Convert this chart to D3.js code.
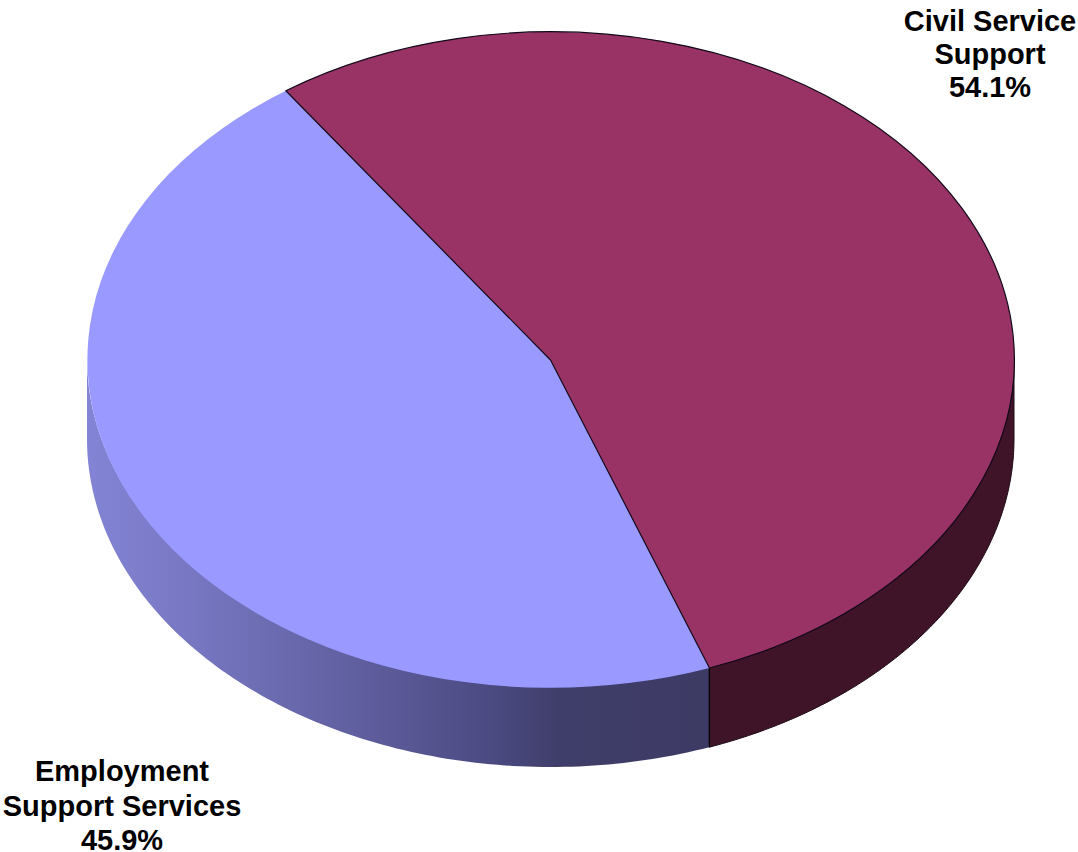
<!DOCTYPE html>
<html>
<head>
<meta charset="utf-8">
<title>Support spending split</title>
<script src="https://cdn.jsdelivr.net/npm/d3@7/dist/d3.min.js"></script>
<style>
  html, body { margin: 0; padding: 0; background: #fff; overflow: hidden; }
  svg { display: block; }
  text { font-family: "Liberation Sans", Arial, sans-serif; font-weight: 700; fill: #000; }
</style>
</head>
<body>
<svg id="chart" width="1078" height="852"></svg>
<script>
// Budget shares
const categories = ["Civil Service Support", "Employment Support Services"];
const shares = [54.1, 45.9];
const topColors = ["#993366", "#9999ff"];
const labelLines = [["Civil Service", "Support", "54.1%"], ["Employment", "Support Services", "45.9%"]];

// Tilted-disc geometry
const width = 1078, height = 852;
const cx = 550.5, cy = 360, rx = 463.5, ry = 328, depth = 79;
const startAngle = -34.8 * Math.PI / 180;

const svg = d3.select("#chart");
const defs = svg.append("defs");

// Side of the blue wedge darkens from left to right, then stays flat
const wallStops = [
  { offset: 0, color: "#8484d6" },
  { offset: 0.25, color: "#7070b8" },
  { offset: 0.5, color: "#5a5896" },
  { offset: 0.66, color: "#4a4980" },
  { offset: 0.76, color: "#3f3e6a" },
  { offset: 1, color: "#3d3b64" }
];
defs.append("linearGradient")
  .attr("id", "blueWall")
  .attr("gradientUnits", "userSpaceOnUse")
  .attr("x1", cx - rx).attr("x2", cx + rx * 0.343)
  .attr("y1", 0).attr("y2", 0)
  .selectAll("stop").data(wallStops).join("stop")
  .attr("offset", d => d.offset)
  .attr("stop-color", d => d.color);

const pie = d3.pie().sort(null)
  .startAngle(startAngle)
  .endAngle(startAngle + 2 * Math.PI);
const slices = pie(shares);

// Ellipse position for a clockwise-from-north angle
const ex = a => cx + rx * Math.sin(a);
const ey = a => cy - ry * Math.cos(a);

// Closed wall outline between two angles on the visible front half.
// The upper edge tucks 2px under the top face so no seam shows through.
function wallPath(a0, a1) {
  const steps = d3.range(0, 121).map(i => a0 + (a1 - a0) * i / 120);
  const top = steps.map(a => [ex(a), ey(a) - 2]);
  const bottom = steps.slice().reverse().map(a => [ex(a), ey(a) + depth]);
  return d3.line()(top.concat(bottom)) + "Z";
}

const halfPi = Math.PI / 2;
const walls = svg.append("g");
const civil = slices[0], employment = slices[1];

// Red wall runs from the right extreme to the wedge boundary
walls.append("path")
  .attr("d", wallPath(halfPi, civil.endAngle))
  .attr("fill", "#3f1428")
  .attr("stroke", "#1c0a14").attr("stroke-width", 1);

// Blue wall runs from the wedge boundary round to the left extreme
walls.append("path")
  .attr("d", wallPath(employment.startAngle, 3 * halfPi))
  .attr("fill", "url(#blueWall)");

// Vertical seam where the two walls meet
walls.append("line")
  .attr("x1", ex(civil.endAngle)).attr("x2", ex(civil.endAngle))
  .attr("y1", ey(civil.endAngle)).attr("y2", ey(civil.endAngle) + depth)
  .attr("stroke", "#000").attr("stroke-width", 1.2);

// Top face: a unit-radius arc squashed into the ellipse
const arc = d3.arc().innerRadius(0).outerRadius(1);
const faces = svg.append("g")
  .attr("transform", `translate(${cx},${cy}) scale(${rx},${ry})`);

faces.append("path")
  .attr("d", arc(employment))
  .attr("fill", topColors[1]);

faces.append("path")
  .attr("d", arc(civil))
  .attr("fill", topColors[0])
  .attr("stroke", "#120818")
  .attr("stroke-width", 1.2)
  .attr("stroke-linejoin", "round")
  .attr("vector-effect", "non-scaling-stroke");

// Multi-line labels
const labelPos = [
  { x: 990, y: 31, step: 33, size: 29 },
  { x: 122, y: 781, step: 34.5, size: 29 }
];
labelLines.forEach((lines, i) => {
  const p = labelPos[i];
  const t = svg.append("text")
    .attr("text-anchor", "middle")
    .attr("font-size", p.size);
  lines.forEach((line, j) => {
    t.append("tspan")
      .attr("x", p.x)
      .attr("y", p.y + j * p.step)
      .text(line);
  });
});
</script>
</body>
</html>
